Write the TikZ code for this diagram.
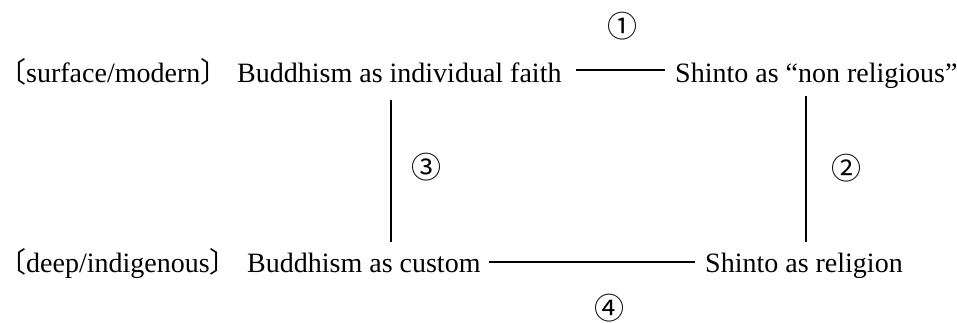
\documentclass[tikz,border=0pt]{standalone}
\usepackage{fontspec}
\setmainfont{Liberation Serif}
\newfontfamily\cjk{Noto Sans CJK JP}
\usetikzlibrary{calc}
\begin{document}
\begin{tikzpicture}[x=1pt,y=-1pt,
  lbl/.style={inner sep=0pt,anchor=base west,font=\fontsize{28}{32}\selectfont},
  num/.style={inner sep=0pt,font=\fontsize{30}{34}\selectfont\cjk},
  conn/.style={line width=1.5pt}]
\useasboundingbox (0,0) rectangle (957,322);
% row 1
\node[lbl] (sm) at (-2,82) {{\cjk 〔}surface/modern{\cjk 〕}};
\node[lbl] (bif) at (237,82) {Buddhism as individual faith};
\node[lbl] (snr) at (675,82) {Shinto as “non religious”};
% row 2
\node[lbl] (di) at (-2,272) {{\cjk 〔}deep/indigenous{\cjk 〕}};
\node[lbl] (bc) at (247,272) {Buddhism as custom};
\node[lbl] (sr) at (705,272) {Shinto as religion};
% numbers
\node[num] (n1) at (622,26) {①};
\node[num] (n2) at (846,168) {②};
\node[num] (n3) at (426,167) {③};
\node[num] (n4) at (609,308) {④};
% connectors
\draw[conn] ([shift={(14,-12)}]bif.base east) -- ([shift={(-10,-12)}]snr.base west);
\draw[conn] ([shift={(8,-10)}]bc.base east) -- ([shift={(-10,-10)}]sr.base west);
\draw[conn] (bif.south -| 391,0) ++(0,18) -- ($(bc.north -| 391,0)+(0,-10)$);
\draw[conn] (snr.south -| 806,0) ++(0,8) -- ($(sr.north -| 806,0)+(0,-10)$);
\end{tikzpicture}
\end{document}
